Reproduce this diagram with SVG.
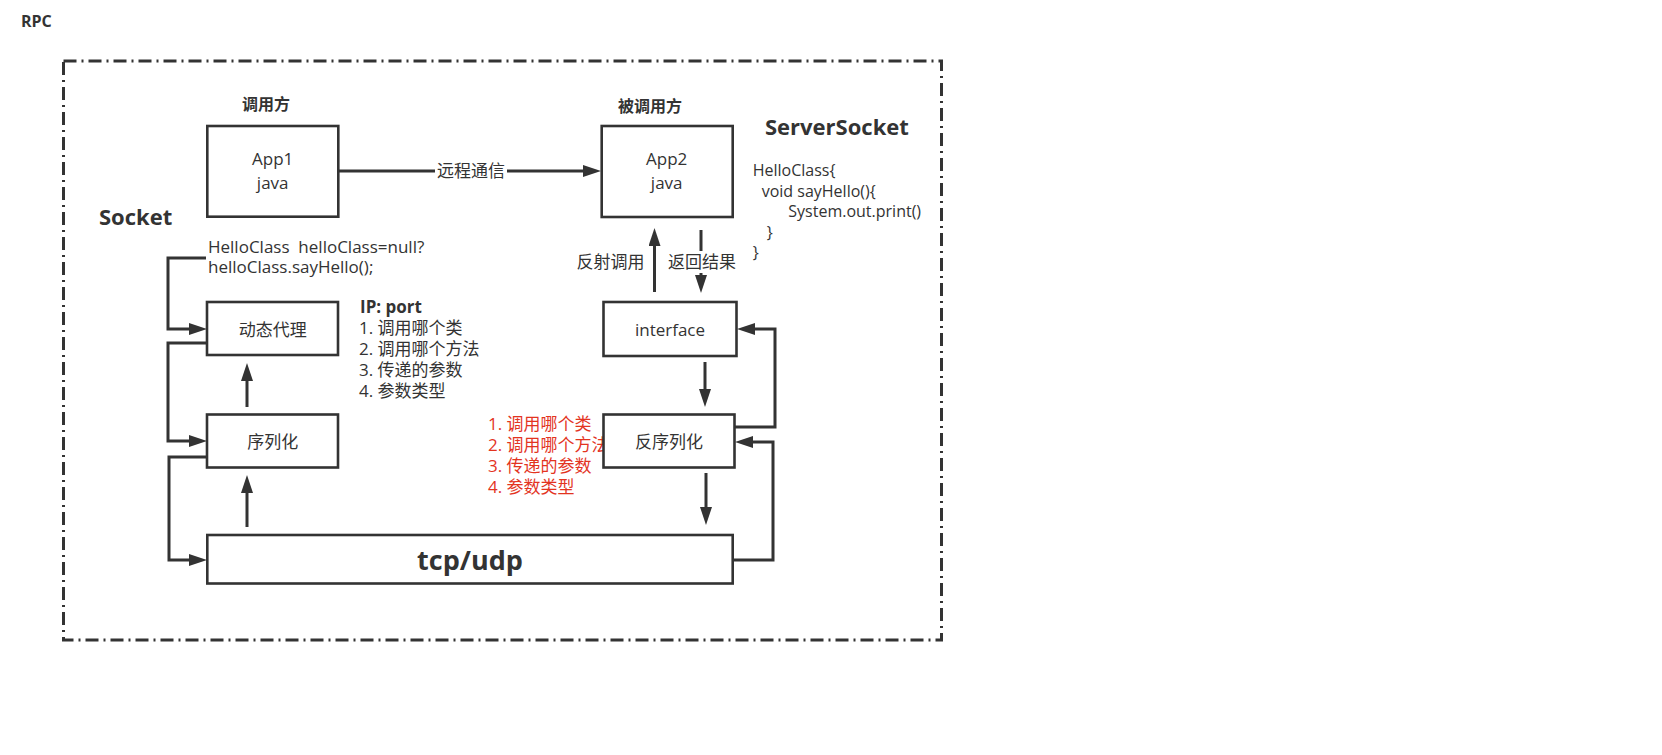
<svg xmlns="http://www.w3.org/2000/svg" width="1662" height="755" viewBox="0 0 1662 755">
<style>
text{font-family:"Open Sans","Noto Sans CJK SC",sans-serif;fill:#333;}
.b{font-weight:bold;}
.box{fill:#fff;stroke:#333;stroke-width:2.6;}
.c{fill:none;stroke:#333;stroke-width:3;}
.red{fill:#e3341f;}
</style>
<defs>
<marker id="ah" markerUnits="userSpaceOnUse" markerWidth="18" markerHeight="12" refX="8" refY="6" orient="auto">
<path d="M0,0 L18,6 L0,12 z" fill="#333"/>
</marker>
</defs>
<rect width="1662" height="755" fill="#fff"/>
<text class="b" x="21" y="27" font-size="16">RPC</text>
<rect id="frame" x="63.5" y="61" width="878" height="579" fill="none" stroke="#333" stroke-width="3" stroke-dasharray="13 5 2 5"/>

<g id="labels">
<text class="b" x="266" y="110" font-size="16" text-anchor="middle">调用方</text>
<text class="b" x="650" y="112" font-size="16" text-anchor="middle">被调用方</text>
<text class="b" x="99" y="225" font-size="22">Socket</text>
<text class="b" x="765" y="135" font-size="22">ServerSocket</text>
<text x="208" y="253" font-size="17">HelloClass&#160; helloClass=null?</text>
<text x="208" y="273" font-size="17">helloClass.sayHello();</text>
<g font-size="16">
<text x="752.7" y="176">HelloClass{</text>
<text x="761.7" y="196.5">void sayHello(){</text>
<text x="788.3" y="217">System.out.print()</text>
<text x="766.7" y="238">}</text>
<text x="752.7" y="258">}</text>
</g>
<text class="b" x="360" y="313" font-size="17">IP: port</text>
<g font-size="17">
<text x="359" y="333.5">1. 调用哪个类</text>
<text x="359" y="354.5">2. 调用哪个方法</text>
<text x="359" y="375.5">3. 传递的参数</text>
<text x="359" y="396.5">4. 参数类型</text>
</g>
<g font-size="17">
<text class="red" x="488" y="430">1. 调用哪个类</text>
<text class="red" x="488" y="451">2. 调用哪个方法</text>
<text class="red" x="488" y="472">3. 传递的参数</text>
<text class="red" x="488" y="493">4. 参数类型</text>
</g>
</g>

<g id="connectors">
<path class="c" d="M338,171 H591" marker-end="url(#ah)"/>
<path class="c" d="M206,258 H168 V329 H197" marker-end="url(#ah)"/>
<path class="c" d="M207,343 H168 V441 H197" marker-end="url(#ah)"/>
<path class="c" d="M207,457 H169 V560 H197" marker-end="url(#ah)"/>
<path class="c" d="M247,407 V373" marker-end="url(#ah)"/>
<path class="c" d="M247,527 V485" marker-end="url(#ah)"/>
<path class="c" d="M654.5,292 V238" marker-end="url(#ah)"/>
<path class="c" d="M701,230 V283" marker-end="url(#ah)"/>
<path class="c" d="M705,362 V397" marker-end="url(#ah)"/>
<path class="c" d="M706,473 V515" marker-end="url(#ah)"/>
<path class="c" d="M735,427 H775 V329 H747" marker-end="url(#ah)"/>
<path class="c" d="M733,560 H773 V442 H745" marker-end="url(#ah)"/>
<rect x="435" y="160" width="72" height="22" fill="#fff"/>
<text x="471" y="177" font-size="17" text-anchor="middle">远程通信</text>
<text x="610.5" y="268" font-size="17" text-anchor="middle">反射调用</text>
<rect x="667" y="251" width="70" height="22" fill="#fff"/>
<text x="702" y="268" font-size="17" text-anchor="middle">返回结果</text>
</g>

<g id="app1">
<rect class="box" x="207.3" y="126" width="131" height="90.7"/>
<text x="272.7" y="165" font-size="17" text-anchor="middle">App1</text>
<text x="272.7" y="188.5" font-size="17" text-anchor="middle">java</text>
</g>
<g id="app2">
<rect class="box" x="601.7" y="126" width="131" height="91"/>
<text x="666.7" y="165" font-size="17" text-anchor="middle">App2</text>
<text x="666.7" y="188.5" font-size="17" text-anchor="middle">java</text>
</g>
<g id="proxy">
<rect class="box" x="207" y="302" width="131" height="53"/>
<text x="272.7" y="336" font-size="17" text-anchor="middle">动态代理</text>
</g>
<g id="serialize">
<rect class="box" x="207" y="414.5" width="131" height="53"/>
<text x="272.7" y="448" font-size="17" text-anchor="middle">序列化</text>
</g>
<g id="interface">
<rect class="box" x="603.5" y="302" width="133" height="54"/>
<text x="670" y="336" font-size="17" text-anchor="middle">interface</text>
</g>
<g id="deserialize">
<rect class="box" x="603.5" y="414.5" width="131" height="53"/>
<text x="669" y="448" font-size="17" text-anchor="middle">反序列化</text>
</g>
<g id="tcpudp">
<rect class="box" x="207.3" y="535" width="525.4" height="48.5"/>
<text class="b" x="470" y="570" font-size="27" text-anchor="middle">tcp/udp</text>
</g>
</svg>
